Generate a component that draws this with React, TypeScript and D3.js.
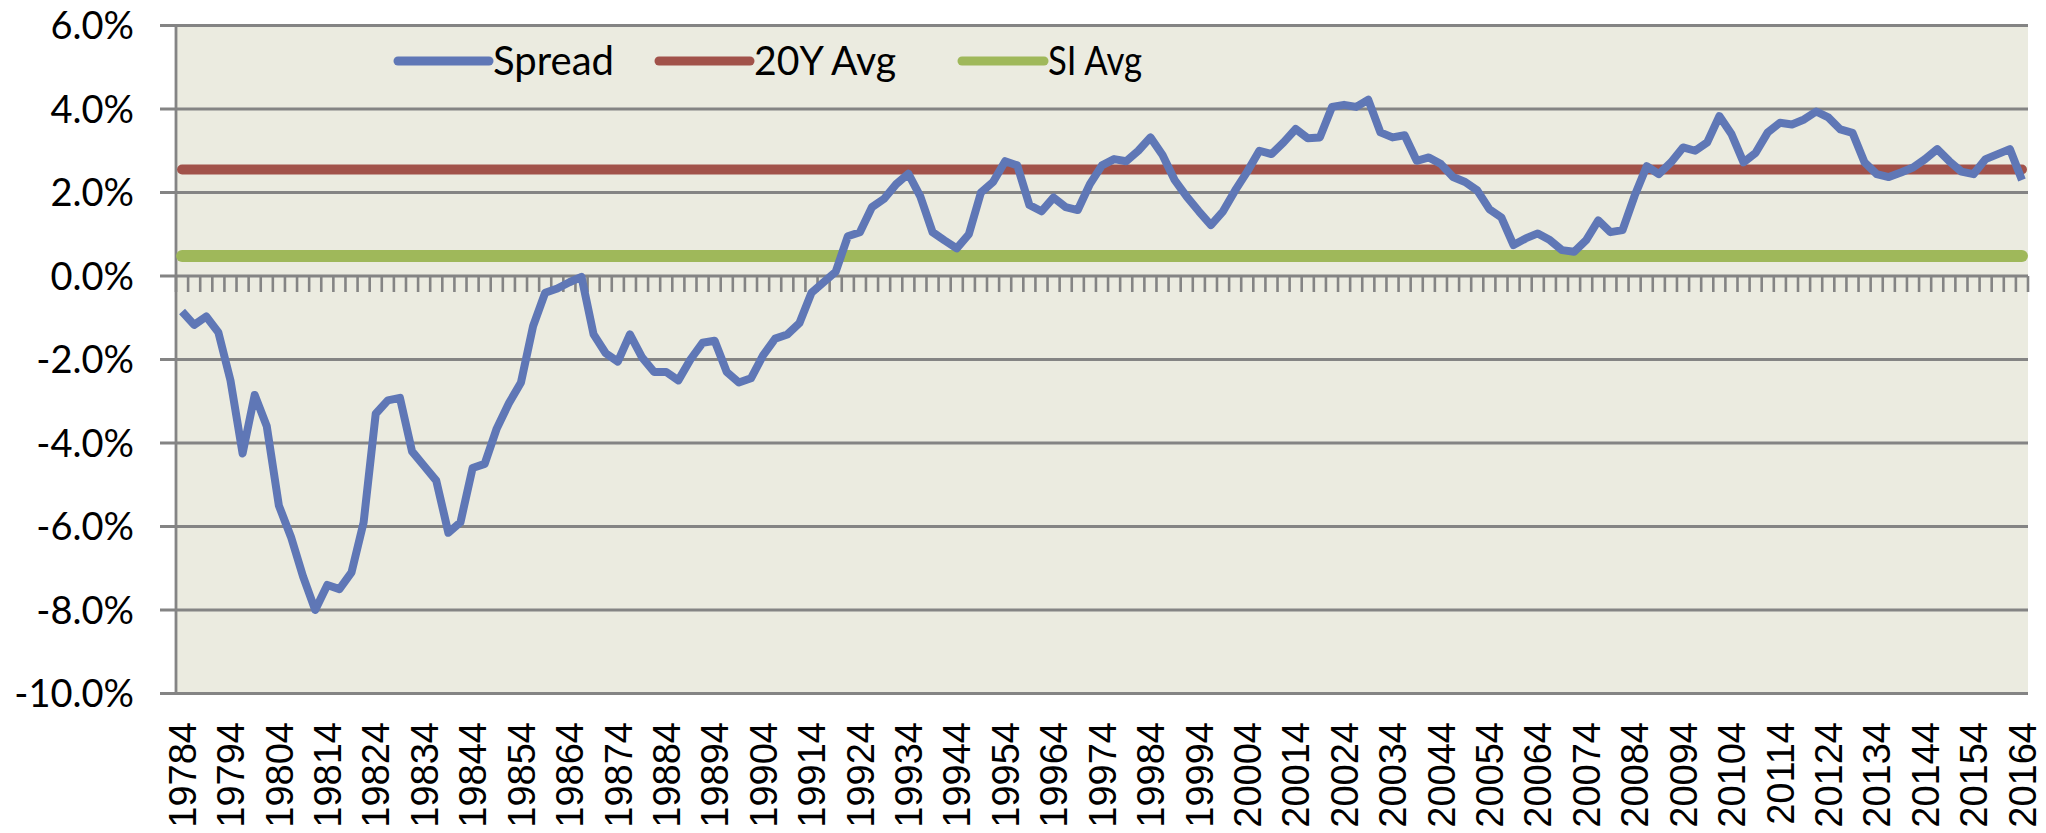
import * as d3 from "d3";

const WIDTH = 2046;
const HEIGHT = 833;

// quarterly categories, 1978 Q4 .. 2016 Q4, written as year + quarter
const years = d3.range(1978, 2017);
const quarters = years.flatMap((y) => [1, 2, 3, 4].map((q) => `${y}${q}`)).filter(
  (k) => +k >= 19784 && +k <= 20164
);

// spread in %, one value per quarter
const spread = [
  -0.85, -1.17, -0.97, -1.35, -2.5, -4.25, -2.85, -3.6, -5.5, -6.25,
  -7.2, -8.0, -7.4, -7.5, -7.1, -5.9, -3.3, -2.98, -2.92, -4.2,
  -4.55, -4.9, -6.15, -5.9, -4.6, -4.5, -3.65, -3.05, -2.55, -1.2,
  -0.4, -0.3, -0.15, -0.02, -1.4, -1.85, -2.05, -1.4, -1.95, -2.3,
  -2.3, -2.5, -2.0, -1.6, -1.55, -2.3, -2.55, -2.45, -1.9, -1.5,
  -1.4, -1.13, -0.4, -0.15, 0.1, 0.95, 1.05, 1.65, 1.85, 2.2,
  2.45, 1.9, 1.05, 0.85, 0.66, 1.0, 2.0, 2.25, 2.75, 2.65,
  1.7, 1.55, 1.88, 1.65, 1.58, 2.2, 2.65, 2.8, 2.75, 3.0,
  3.32, 2.9, 2.3, 1.9, 1.55, 1.22, 1.55, 2.05, 2.5, 3.0,
  2.92, 3.2, 3.52, 3.3, 3.32, 4.05, 4.1, 4.05, 4.22, 3.44,
  3.32, 3.37, 2.76, 2.84, 2.68, 2.37, 2.25, 2.05, 1.6, 1.4,
  0.74, 0.9, 1.02, 0.86, 0.62, 0.58, 0.86, 1.33, 1.05, 1.1,
  1.92, 2.63, 2.44, 2.72, 3.08, 3.0, 3.2, 3.83, 3.4, 2.72,
  2.95, 3.44, 3.67, 3.63, 3.75, 3.94, 3.8, 3.51, 3.43, 2.72,
  2.44, 2.37, 2.48, 2.6, 2.8, 3.04, 2.75, 2.5, 2.44, 2.8,
  2.92, 3.04, 2.3,
];

const avg20Y = 2.55;
const avgSI = 0.48;

const yTicks = [6, 4, 2, 0, -2, -4, -6, -8, -10];

const legendItems = [
  { label: "Spread", color: "#5F77B6", x: 398, len: 91, textW: 121 },
  { label: "20Y Avg", color: "#A1524A", x: 659, len: 91, textW: 142 },
  { label: "SI Avg", color: "#9FB85A", x: 962, len: 82, textW: 94 },
];

const PLOT = { left: 176, right: 2028, top: 25.5, bottom: 693.5 };
const GRID = "#848484";

export default function App() {
  const x = d3.scaleBand<string>().domain(quarters).range([PLOT.left, PLOT.right]).padding(0);
  const y = d3.scaleLinear().domain([-10, 6]).range([PLOT.bottom, PLOT.top]);
  const cx = (k: string) => (x(k) ?? 0) + x.bandwidth() / 2;

  const line = d3
    .line<number>()
    .x((_, i) => cx(quarters[i]))
    .y((d) => y(d));

  const first = cx(quarters[0]);
  const last = cx(quarters[quarters.length - 1]);

  return (
    <svg
      width={WIDTH}
      height={HEIGHT}
      style={{ position: "absolute", left: 0, top: 0, background: "#fff" }}
    >
      <rect
        x={PLOT.left}
        y={PLOT.top}
        width={PLOT.right - PLOT.left}
        height={PLOT.bottom - PLOT.top}
        fill="#EBEBE0"
      />
      {yTicks.map((t) => (
        <g key={t}>
          <line x1={160} x2={PLOT.right} y1={y(t)} y2={y(t)} stroke={GRID} strokeWidth={2.8} />
          <text
            x={134}
            y={y(t)}
            dy="0.36em"
            textAnchor="end"
            fontFamily="Lato"
            fontSize={38}
            fill="#000"
          >
            {t.toFixed(1)}%
          </text>
        </g>
      ))}
      <line x1={PLOT.left} x2={PLOT.left} y1={PLOT.top} y2={PLOT.bottom} stroke={GRID} strokeWidth={2.8} />

      {/* category ticks hanging off the 0% line */}
      {[...quarters.map((k) => x(k) ?? 0), PLOT.right].map((tx, i) => (
        <line key={i} x1={tx} x2={tx} y1={y(0)} y2={y(0) + 16} stroke={GRID} strokeWidth={2.6} />
      ))}

      <line x1={first} x2={last} y1={y(avg20Y)} y2={y(avg20Y)} stroke="#A1524A" strokeWidth={10} strokeLinecap="round" />
      <line x1={first} x2={last} y1={y(avgSI)} y2={y(avgSI)} stroke="#9FB85A" strokeWidth={12} strokeLinecap="round" />
      <path d={line(spread) ?? ""} fill="none" stroke="#5F77B6" strokeWidth={8} strokeLinejoin="round" />

      {quarters.map((k, i) =>
        i % 4 === 0 ? (
          <text
            key={k}
            transform={`translate(${cx(k)},722) rotate(-90)`}
            dy="0.36em"
            textAnchor="end"
            fontFamily="Liberation Sans, Arial"
            fontSize={38}
            fill="#000"
          >
            {k}
          </text>
        ) : null
      )}

      {legendItems.map((d) => (
        <g key={d.label}>
          <line x1={d.x} x2={d.x + d.len} y1={61} y2={61} stroke={d.color} strokeWidth={9} strokeLinecap="round" />
          <text
            x={d.x + d.len + 4}
            y={61}
            dy="0.36em"
            fontFamily="Lato"
            fontSize={40}
            textLength={d.textW}
            lengthAdjust="spacingAndGlyphs"
            fill="#000"
          >
            {d.label}
          </text>
        </g>
      ))}
    </svg>
  );
}
